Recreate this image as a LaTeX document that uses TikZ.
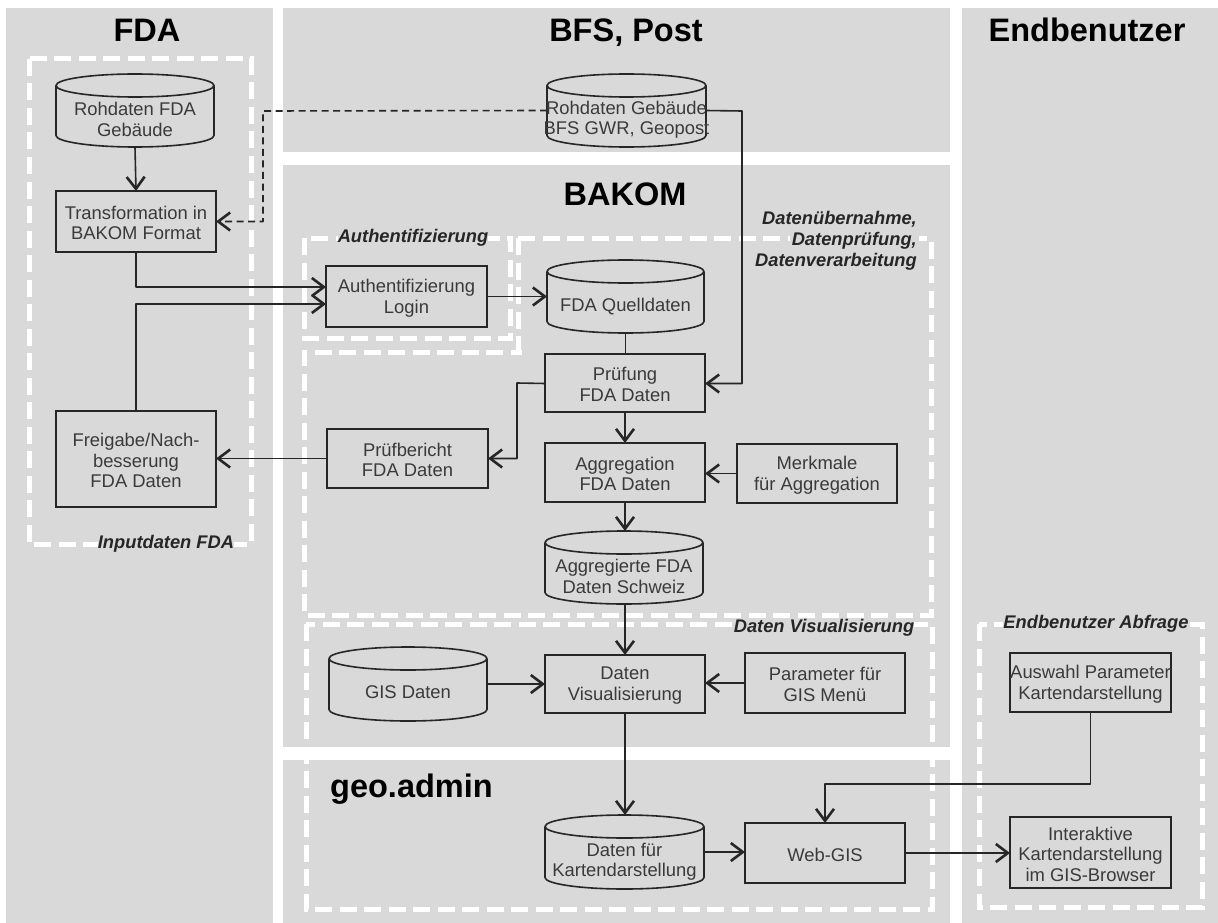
\documentclass[tikz,border=0pt]{standalone}
\usepackage{fontspec}
\setmainfont{Liberation Sans}
\usetikzlibrary{arrows.meta,fit}
\definecolor{panel}{HTML}{D9D9D9}
\definecolor{ink}{HTML}{262626}
\definecolor{txtc}{HTML}{3A3A3A}
\tikzset{
  panelbox/.style={fill=panel,draw=none},
  zone/.style={draw=white,line width=5pt,dash pattern=on 17pt off 7.5pt,line join=miter},
  boxn/.style={draw=ink,line width=1.6pt,rectangle,inner sep=0pt,outer sep=0pt},
  cylbody/.style={rectangle,inner sep=0pt,outer sep=0pt},
  cyltext/.style={align=center,text=txtc,inner sep=0pt,font=\fontsize{18.4}{20.5}\selectfont},
  title/.style={font=\fontsize{32.5}{36}\selectfont\bfseries,text=black,inner sep=0pt,anchor=base},
  zonelabel/.style={font=\fontsize{18.3}{21}\selectfont\bfseries\itshape,text=ink,inner sep=0pt,fill=panel,align=right},
  conn/.style={draw=ink,line width=1.6pt,line join=round},
  arr/.style={conn,-{Straight Barb[length=12pt,width=18pt,line width=2.6pt]}},
  darr/.style={arr,dashed,dash pattern=on 7pt off 4.5pt},
}
\newcommand{\rectnode}[6]{%
  \pgfmathsetmacro{\bw}{#4-#2}\pgfmathsetmacro{\bh}{#5-#3}%
  \pgfmathsetmacro{\bx}{(#4+#2)/2}\pgfmathsetmacro{\by}{(#5+#3)/2}%
  \pgfmathsetmacro{\byt}{\by+1.5}%
  \node[boxn,minimum width=\bw pt,minimum height=\bh pt] (#1) at (\bx,\by) {};
  \node[cyltext] (#1-text) at (\bx,\byt) {#6};}
\newcommand{\cylnode}[7]{%
  \pgfmathsetmacro{\rxv}{(#4-#2)/2}\pgfmathsetmacro{\cxv}{(#4+#2)/2}%
  \pgfmathsetmacro{\yt}{#3+11.5}\pgfmathsetmacro{\yb}{#5-11.5}%
  \pgfmathsetmacro{\ka}{\cxv-0.5523*\rxv}\pgfmathsetmacro{\kb}{\cxv+0.5523*\rxv}%
  \pgfmathsetmacro{\kc}{\yb+6.35}%
  \pgfmathsetmacro{\ytx}{#6+1.5}%
  \node[cylbody,fit={(#2,#3) (#4,#5)}] (#1) {};
  \draw[conn] (\cxv,\yt) ellipse [x radius=\rxv pt,y radius=11.5pt];
  \draw[conn] (#2,\yt) -- (#2,\yb) .. controls (#2,\kc) and (\ka,#5) .. (\cxv,#5)
     .. controls (\kb,#5) and (#4,\kc) .. (#4,\yb) -- (#4,\yt);
  \node[cyltext] (#1-text) at (\cxv,\ytx) {#7};}
\begin{document}
\begin{tikzpicture}[x=1pt,y=-1pt]
\useasboundingbox (0,0) rectangle (1218,923);
% panels
\fill[white] (0,0) rectangle (1218,923);
\path[panelbox] (6,8) rectangle (273,923);
\path[panelbox] (283,8) rectangle (950,152);
\path[panelbox] (283,165) rectangle (950,747);
\path[panelbox] (283,760) rectangle (950,923);
\path[panelbox] (962,8) rectangle (1218,923);
% zones
\draw[zone] (29,59) rectangle (251,544);
\draw[zone] (304,238) rectangle (510,338);
\draw[zone] (518,238) -- (931,238) -- (931,615) -- (304,615) -- (304,352) -- (522,352);
\draw[zone] (518,238) -- (518,352);
\draw[zone] (306,624) rectangle (932,909);
\draw[zone] (979,624) rectangle (1202,907);
% titles
\node[title] (tfda) at (147,42) {FDA};
\node[title] (tbfs) at (626,42) {BFS, Post};
\node[title] (tbak) at (625,205) {BAKOM};
\node[title] (tend) at (1087,42) {Endbenutzer};
\node[title,anchor=base west] (tgeo) at (330,797) {geo.admin};
% zone labels
\fill[panel] (790,231) rectangle (919,249);
\node[zonelabel,fill=none,anchor=east] (ldat) at (917,241) {Datenübernahme,\\Datenprüfung,\\Datenverarbeitung};
\node[zonelabel,anchor=center] (laut) at (413,238) {Authentifizierung};
\node[zonelabel,anchor=center] (linp) at (166,544) {Inputdaten FDA};
\node[zonelabel,anchor=center] (lvis) at (824,628) {Daten Visualisierung};
\node[zonelabel,anchor=center] (labf) at (1096,624) {Endbenutzer Abfrage};
% cylinders
\cylnode{rfda}{56}{74}{214}{147}{118}{Rohdaten FDA\\Gebäude}
\cylnode{rbfs}{547}{74}{706}{147}{118}{Rohdaten Gebäude\\BFS GWR, Geopost}
\cylnode{quell}{547}{260}{704}{333}{305}{FDA Quelldaten}
\cylnode{aggd}{545}{531}{703}{604}{575}{Aggregierte FDA\\Daten Schweiz}
\cylnode{gis}{329}{647}{487}{721}{691}{GIS Daten}
\cylnode{karte}{545}{815}{704}{889}{860}{Daten für\\Kartendarstellung}
% boxes
\rectnode{trans}{56}{191}{216}{252}{Transformation in\\BAKOM Format}
\rectnode{auth}{326}{266}{487}{327}{Authentifizierung\\Login}
\rectnode{frei}{56}{411}{216}{507}{Freigabe/Nach-\\besserung\\FDA Daten}
\rectnode{pber}{327}{429}{488}{488}{Prüfbericht\\FDA Daten}
\rectnode{pruef}{545}{354}{705}{412}{Prüfung\\FDA Daten}
\rectnode{aggr}{545}{443}{705}{502}{Aggregation\\FDA Daten}
\rectnode{merk}{737}{444}{897}{503}{Merkmale\\für Aggregation}
\rectnode{dvis}{545}{655}{705}{713}{Daten\\Visualisierung}
\rectnode{para}{745}{653}{905}{713}{Parameter für\\GIS Menü}
\rectnode{ausw}{1010}{653}{1171}{712}{Auswahl Parameter\\Kartendarstellung}
\rectnode{wgis}{745}{823}{905}{883}{Web-GIS}
\rectnode{inter}{1010}{817}{1171}{888}{Interaktive\\Kartendarstellung\\im GIS-Browser}
% connectors
\coordinate (dtop) at (263,111);
\coordinate (rbend) at (742,111);
\coordinate (lbend) at (517,383);
\coordinate (wbend) at (825,784);
\draw[arr] (rfda.south) -- (trans.north);
\draw[darr] (rbfs.west) -- (dtop) |- (trans.east);
\draw[arr] (rbfs.east) -- (rbend) |- ([yshift=-0.5pt]pruef.east);
\draw[arr] (trans.south) |- ([yshift=9.5pt]auth.west);
\draw[arr] (frei.north) |- ([yshift=-7.5pt]auth.west);
\draw[arr] (auth.east) -- (quell.west);
\draw[conn] (quell.south) -- (quell.south |- pruef.north);
\draw[arr] ([yshift=-0.5pt]pruef.west) -- (lbend) |- (pber.east);
\draw[arr] (pber.west) -- (frei.east |- pber.west);
\draw[arr] (pruef.south) -- (aggr.north);
\draw[arr] (merk.west) -- (aggr.east |- merk.west);
\draw[arr] (aggr.south) -- (aggd.north -| aggr.south);
\draw[arr] (aggd.south -| dvis.north) -- (dvis.north);
\draw[arr] (gis.east) -- (dvis.west |- gis.east);
\draw[arr] (para.west) -- (dvis.east |- para.west);
\draw[arr] (dvis.south) -- (karte.north -| dvis.south);
\draw[arr] (karte.east) -- (wgis.west |- karte.east);
\draw[arr] (wgis.east) -- (inter.west |- wgis.east);
\draw[arr] (ausw.south) |- (wbend) -- (wgis.north);
\end{tikzpicture}
\end{document}
